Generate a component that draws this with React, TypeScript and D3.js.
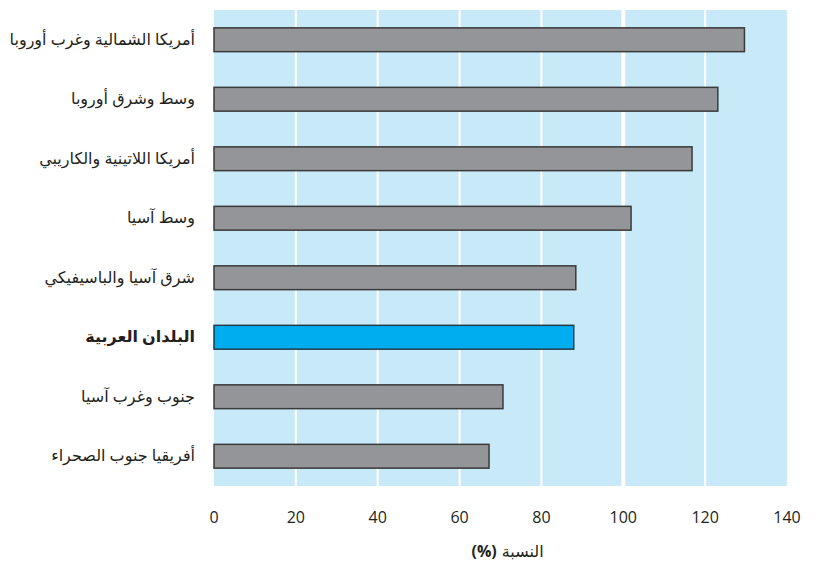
import React from "react";
import * as d3 from "d3";

const regions = [
  "أمريكا الشمالية وغرب أوروبا",
  "وسط وشرق أوروبا",
  "أمريكا اللاتينية والكاريبي",
  "وسط آسيا",
  "شرق آسيا والباسيفيكي",
  "البلدان العربية",
  "جنوب وغرب آسيا",
  "أفريقيا جنوب الصحراء",
];
const values = [129.6, 123.1, 116.8, 101.9, 88.4, 87.9, 70.6, 67.2];
const highlighted = ["البلدان العربية"];
const ticks = [0, 20, 40, 60, 80, 100, 120, 140];
const axisTitleWord = "النسبة";
const axisTitleUnit = "(%)";

const W = 825;
const H = 565;
const margin = { top: 10, right: 38, bottom: 79, left: 214 };

const App = () => {
  const innerW = W - margin.left - margin.right;
  const innerH = H - margin.top - margin.bottom;

  const x = d3.scaleLinear().domain([0, 140]).range([0, innerW]);
  const y = d3.scaleBand<string>().domain(regions).range([0, innerH]).paddingInner(0.6).paddingOuter(0.3);

  const font = "'Open Sans', 'Noto Sans', 'DejaVu Sans', sans-serif";

  return (
    <svg width={W} height={H} style={{ position: "absolute", left: 0, top: 0 }}>
      <rect width={W} height={H} fill="#fff" />
      <g transform={`translate(${margin.left},${margin.top})`}>
        <rect width={innerW} height={innerH} fill="#c8e9f8" />
        {ticks.slice(1, -1).map((t) => (
          <line
            key={t}
            x1={x(t)}
            x2={x(t)}
            y1={0}
            y2={innerH}
            stroke="#fff"
            strokeWidth={t === 100 ? 4 : 2}
          />
        ))}
        {regions.map((r, i) => {
          const hl = highlighted.includes(r);
          return (
            <g key={r}>
              <rect
                x={0}
                y={y(r)}
                width={x(values[i])}
                height={y.bandwidth()}
                fill={hl ? "#00aeef" : "#939598"}
                stroke={hl ? "#1d3a4a" : "#3a3a3a"}
                strokeWidth={1.5}
              />
              <text
                x={-19}
                y={(y(r) ?? 0) + y.bandwidth() / 2}
                dy="0.3em"
                textAnchor="end"
                fontFamily={font}
                fontSize={16}
                fontWeight={hl ? "bold" : "normal"}
                fill="#231f20"
              >
                {r}
              </text>
            </g>
          );
        })}
        {ticks.map((t) => (
          <text
            key={t}
            x={x(t)}
            y={innerH + 37}
            textAnchor="middle"
            fontFamily={font}
            fontSize={16}
            fill="#231f20"
          >
            {t}
          </text>
        ))}
        <text
          x={innerW / 2 - 29}
          y={innerH + 71}
          textAnchor="start"
          fontFamily={font}
          fontSize={16}
          fill="#231f20"
        >
          <tspan fontWeight="bold">{axisTitleUnit}</tspan>
          <tspan dx={5}>{axisTitleWord}</tspan>
        </text>
      </g>
    </svg>
  );
};

export default App;
